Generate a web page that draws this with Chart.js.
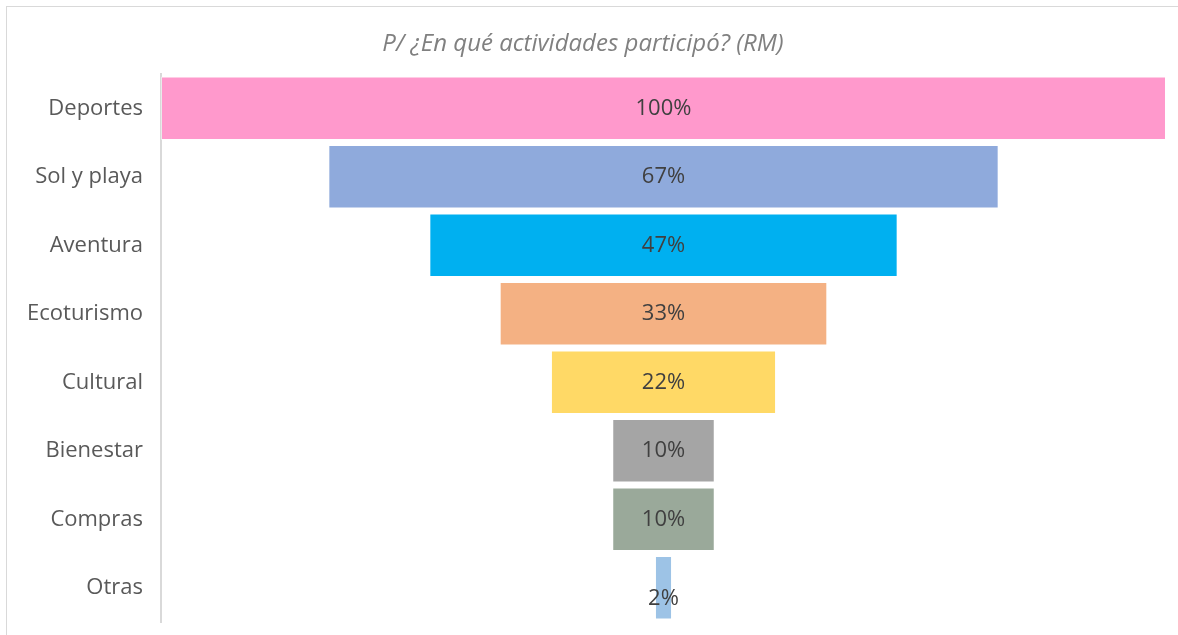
<!DOCTYPE html>
<html>
<head>
<meta charset="utf-8">
<script src="https://cdn.jsdelivr.net/npm/chart.js@4"></script>
<style>
  html, body { margin: 0; padding: 0; background: #fff; }
  #wrap { position: relative; width: 1178px; height: 635px; overflow: hidden; }
  #frame { position: absolute; left: 6px; top: 6px; width: 1200px; height: 700px; border: 1px solid #d9d9d9; box-sizing: border-box; }
  canvas { position: absolute; left: 0; top: 0; }
</style>
</head>
<body>
<div id="wrap">
  <div id="frame"></div>
  <canvas id="chart" width="1178" height="635"></canvas>
</div>
<script>
// Chart data
const titleText = 'P/ ¿En qué actividades participó? (RM)';
const categories = ['Deportes', 'Sol y playa', 'Aventura', 'Ecoturismo', 'Cultural', 'Bienestar', 'Compras', 'Otras'];
const values = [100, 66.7, 46.6, 32.6, 22.4, 10.2, 10.2, 1.7];
const valueLabels = ['100%', '67%', '47%', '33%', '22%', '10%', '10%', '2%'];
const barColors = ['#FF99CC', '#8FAADC', '#00B0F0', '#F4B183', '#FFD966', '#A5A5A5', '#9AA99A', '#9DC3E6'];

// funnel: each bar floats centred on the middle of the axis
const funnelData = values.map(v => [50 - v / 2, 50 + v / 2]);

const FONT = '"Open Sans", sans-serif';

// draws the percentage text over each bar
const barLabels = {
  id: 'barLabels',
  afterDatasetsDraw(chart) {
    const ctx = chart.ctx;
    const meta = chart.getDatasetMeta(0);
    ctx.save();
    ctx.font = '22px ' + FONT;
    ctx.fillStyle = '#404040';
    ctx.textAlign = 'center';
    ctx.textBaseline = 'middle';
    meta.data.forEach((bar, i) => {
      const off = i === meta.data.length - 1 ? 11 : 0; // Excel pushes the tiny one down
      ctx.fillText(valueLabels[i], (bar.x + bar.base) / 2, bar.y + off);
    });
    ctx.restore();
  }
};

new Chart(document.getElementById('chart'), {
  type: 'bar',
  data: {
    labels: categories,
    datasets: [{
      data: funnelData,
      backgroundColor: barColors,
      borderColor: 'rgba(255,255,255,0.45)',
      borderWidth: 1,
      borderSkipped: false,
      barPercentage: 1,
      categoryPercentage: 0.93
    }]
  },
  options: {
    indexAxis: 'y',
    responsive: false,
    animation: false,
    layout: { padding: { left: 0, right: 12, top: 0, bottom: 13 } },
    plugins: {
      legend: { display: false },
      tooltip: { enabled: false },
      title: {
        display: true,
        text: titleText,
        color: '#808080',
        font: { family: FONT, size: 24, style: 'italic', weight: 'normal' },
        padding: { top: 29.5, bottom: 15.7 }
      }
    },
    scales: {
      x: {
        display: false,
        min: 0,
        max: 100
      },
      y: {
        afterFit(scale) {
          scale.width = 161;
          scale.paddingTop = 0;
          scale.paddingBottom = 0;
        },
        grid: { display: false, drawTicks: false },
        border: { display: true, color: '#d9d9d9', width: 2 },
        ticks: {
          color: '#595959',
          padding: 18,
          font: { family: FONT, size: 22 }
        }
      }
    }
  },
  plugins: [barLabels]
});
</script>
</body>
</html>
